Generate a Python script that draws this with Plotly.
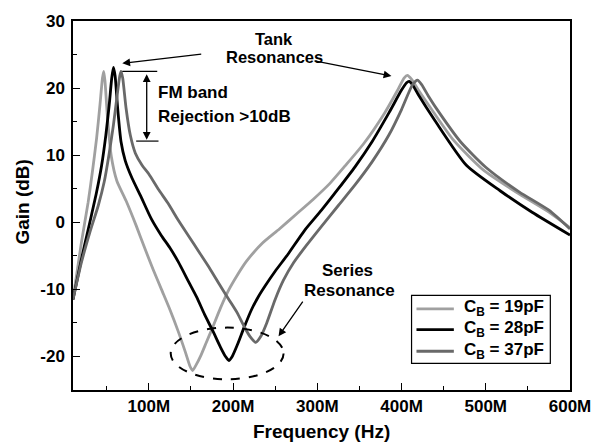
import plotly.graph_objects as go

# ---- data (frequency in MHz, gain in dB) ----
freq_19 = [10, 20, 28, 33, 38, 42, 45, 46.5, 48, 51, 55.5, 62, 73, 85, 95, 105, 115, 125, 135, 143,
           149, 152, 156, 162, 168, 176, 185, 194, 205, 216, 235, 255, 275, 295, 315, 333, 355, 380,
           395, 403, 407, 412, 420, 438, 462, 497, 536, 575, 600]
gain_19 = [-11.5, -3.0, 3.0, 7.5, 12.5, 17.5, 21.5, 22.5, 21.0, 15.5, 9.8, 6.2, 3.2, -0.5, -3.8, -7.0,
           -10.0, -13.0, -16.3, -19.2, -21.5, -22.1, -21.3, -19.8, -18.0, -15.6, -12.8, -10.3, -7.9,
           -5.8, -3.1, -1.0, 1.2, 3.4, 5.8, 8.4, 11.7, 16.3, 19.6, 21.5, 21.9, 21.3, 19.7, 16.4, 12.2,
           7.8, 4.5, 1.5, -0.8]

freq_28 = [10, 20, 30, 38, 44, 49, 53, 56, 58, 60, 63, 67, 72, 80, 90, 103, 115, 125, 135, 147, 157,
           166, 176, 185, 191, 195, 199, 205, 213, 222, 230, 238, 250, 265, 285, 305, 325, 345, 365,
           385, 400, 406, 409, 413, 420, 440, 477, 517, 555, 600]
gain_28 = [-11.5, -5.5, 0.0, 4.5, 8.5, 13.0, 17.5, 21.5, 23.1, 21.8, 17.0, 12.0, 9.2, 6.6, 4.0, 0.5,
           -2.0, -3.8, -5.9, -8.8, -11.2, -13.7, -16.2, -18.6, -20.0, -20.6, -20.0, -18.3, -15.7,
           -13.0, -11.1, -9.5, -7.3, -4.8, -1.2, 1.8, 5.0, 8.3, 12.0, 16.3, 19.7, 20.8, 21.0, 20.5,
           19.0, 15.1, 8.5, 4.7, 1.5, -1.9]

freq_37 = [10, 20, 30, 40, 47, 53, 58, 62, 65.5, 67, 69, 73, 78, 84, 92, 100, 112, 123, 135, 147, 160,
           172, 185, 195, 205, 213, 220, 227, 233, 240, 250, 260, 272, 288, 305, 325, 345, 365, 385,
           400, 413, 419, 424, 432, 445, 470, 500, 540, 575, 600]
gain_37 = [-11.5, -6.0, -1.5, 2.5, 6.0, 10.3, 14.5, 18.5, 21.8, 22.5, 21.5, 17.0, 13.0, 10.3, 8.5, 7.2,
           4.8, 2.8, 0.3, -2.0, -4.5, -6.8, -9.5, -11.5, -13.5, -15.5, -17.0, -17.9, -17.0, -15.0,
           -11.5, -8.6, -6.0, -3.3, -0.6, 2.5, 5.6, 9.0, 13.0, 16.8, 20.5, 21.2, 20.5, 18.8, 16.3,
           12.0, 8.2, 4.5, 1.8, -1.0]

series_labels = ["C<sub>B</sub> = 19pF", "C<sub>B</sub> = 28pF", "C<sub>B</sub> = 37pF"]
series_colors = ["#a0a0a0", "#000000", "#696969"]

x_tickvals_mhz = [100, 200, 300, 400, 500, 600]
x_ticktext = ["100M", "200M", "300M", "400M", "500M", "600M"]
y_tickvals = [-20, -10, 0, 10, 20, 30]
y_ticktext = ["-20", "-10", "0", "10", "20", "30"]

MHZ = 1e6
FONT = "Liberation Sans, Arial, sans-serif"

fig = go.Figure()
for fx, gy, name, col in zip([freq_19, freq_28, freq_37], [gain_19, gain_28, gain_37],
                             series_labels, series_colors):
    fig.add_trace(go.Scatter(
        x=[f * MHZ for f in fx], y=gy, mode="lines", name=name, showlegend=False,
        line=dict(color=col, width=2.8, shape="spline", smoothing=0.6),
    ))

axis_common = dict(
    showline=True, linecolor="black", linewidth=1.5, mirror=True,
    ticks="inside", ticklen=7, tickwidth=1.2, tickcolor="black",
    showgrid=False, zeroline=False,
    tickfont=dict(family=FONT, size=17, color="black", weight="bold"),
)

fig.update_xaxes(
    range=[10 * MHZ, 600 * MHZ],
    tickvals=[v * MHZ for v in x_tickvals_mhz], ticktext=x_ticktext,
    minor=dict(dtick=50 * MHZ, tick0=0, ticks="inside", ticklen=4, tickcolor="black", tickwidth=1),
    ticklabelstandoff=0,
    **axis_common,
)
fig.update_yaxes(
    range=[-25, 30],
    tickvals=y_tickvals, ticktext=y_ticktext,
    minor=dict(dtick=5, tick0=0, ticks="inside", ticklen=4, tickcolor="black", tickwidth=1),
    ticklabelstandoff=3,
    **axis_common,
)

ann_font = dict(family=FONT, size=17, color="black", weight="bold")
tank_font = dict(family=FONT, size=16.5, color="black", weight="bold")
title_font = dict(family=FONT, size=19, color="black", weight="bold")

annotations = [
    # axis titles
    dict(text="Frequency (Hz)", xref="paper", yref="paper", x=0.5, y=-0.112,
         xanchor="center", yanchor="middle", showarrow=False, font=title_font),
    dict(text="Gain (dB)", xref="paper", yref="paper", x=-0.101, y=0.51, textangle=-90,
         xanchor="center", yanchor="middle", showarrow=False, font=title_font),
    # Tank resonances
    dict(text="Tank", x=249 * MHZ, y=27.3, showarrow=False, font=tank_font),
    dict(text="Resonances", x=249 * MHZ, y=24.7, showarrow=False, font=tank_font),
    dict(x=68.5 * MHZ, y=23.7, ax=164 * MHZ, ay=25.1, axref="x", ayref="y", text="",
         showarrow=True, arrowhead=2, arrowsize=1.2, arrowwidth=1.3, arrowcolor="black"),
    dict(x=388 * MHZ, y=21.8, ax=295 * MHZ, ay=24.1, axref="x", ayref="y", text="",
         showarrow=True, arrowhead=2, arrowsize=1.2, arrowwidth=1.3, arrowcolor="black"),
    # FM band
    dict(text="FM band", x=108.5 * MHZ, y=19.3, xanchor="left", showarrow=False, font=ann_font),
    dict(text="Rejection >10dB", x=108.5 * MHZ, y=15.8, xanchor="left", showarrow=False,
         font=ann_font),
    dict(x=97.5 * MHZ, y=12.3, ax=97.5 * MHZ, ay=22.3, axref="x", ayref="y", text="",
         showarrow=True, arrowhead=2, startarrowhead=2, arrowside="end+start",
         arrowsize=1.2, arrowwidth=1.3, arrowcolor="black"),
    # Series resonance
    dict(text="Series", x=336 * MHZ, y=-7.2, showarrow=False, font=ann_font),
    dict(text="Resonance", x=338 * MHZ, y=-10.1, showarrow=False, font=ann_font),
    dict(x=254 * MHZ, y=-17.0, ax=284 * MHZ, ay=-11.6, axref="x", ayref="y", text="",
         showarrow=True, arrowhead=2, arrowsize=1.2, arrowwidth=1.3, arrowcolor="black"),
]

shapes = [
    dict(type="line", xref="x", yref="y", x0=68.5 * MHZ, x1=110 * MHZ, y0=22.5, y1=22.5,
         line=dict(color="black", width=1.2)),
    dict(type="line", xref="x", yref="y", x0=85 * MHZ, x1=111.5 * MHZ, y0=12.1, y1=12.1,
         line=dict(color="black", width=1.2)),
    dict(type="circle", xref="x", yref="y", x0=126 * MHZ, x1=260 * MHZ, y0=-23.4, y1=-15.7,
         line=dict(color="black", width=2, dash="dash")),
    # legend box
    dict(type="rect", xref="paper", yref="paper", x0=0.6812, x1=0.9604, y0=0.0722, y1=0.2567,
         line=dict(color="black", width=1.2), fillcolor="white", layer="above"),
]

# legend entries (one per series), drawn as sample line + label
legend_rows_y = [0.2199, 0.1638, 0.1050]
for ly, lab, col in zip(legend_rows_y, series_labels, series_colors):
    shapes.append(dict(type="line", xref="paper", yref="paper", x0=0.6911, x1=0.7663,
                       y0=ly, y1=ly, line=dict(color=col, width=2.8), layer="above"))
    annotations.append(dict(text=lab, xref="paper", yref="paper", x=0.7822, y=ly + 0.002,
                            xanchor="left", yanchor="middle", showarrow=False, font=ann_font))

fig.update_layout(
    width=603, height=445,
    margin=dict(l=73, r=25, t=16, b=55),
    paper_bgcolor="white", plot_bgcolor="white",
    font=dict(family=FONT, color="black"),
    annotations=annotations, shapes=shapes,
    showlegend=False,
)

fig.write_html("out.html")
